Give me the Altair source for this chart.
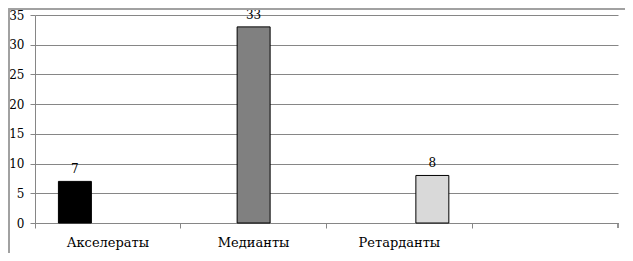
import altair as alt
import pandas as pd

categories = ["Акселераты", "Медианты", "Ретарданты", " "]
series = ["s1", "s2", "s3"]
values = [7, 33, 8]
colors = ["#000000", "#808080", "#d9d9d9"]
yticks = [0, 5, 10, 15, 20, 25, 30, 35]

df = pd.DataFrame({
    "cat": categories[:3],
    "ser": series,
    "val": values,
})

FONT = "DejaVu Serif"

x = alt.X("cat:N", scale=alt.Scale(domain=categories, paddingInner=0, paddingOuter=0),
          axis=alt.Axis(title=None, labelAngle=0, bandPosition=0, grid=False, tickSize=5,
                        labelPadding=8, labelFontSize=13, labelFont=FONT))
xo = alt.XOffset("ser:N", scale=alt.Scale(domain=series, paddingInner=0, paddingOuter=0.71))
y = alt.Y("val:Q", scale=alt.Scale(domain=[0, 35]),
          axis=alt.Axis(title=None, values=yticks, tickSize=5,
                        labelPadding=6, labelFontSize=12, labelFont=FONT, labelOverlap=False))

bars = alt.Chart(df).mark_bar(stroke="#000000", strokeWidth=1).encode(
    x=x, xOffset=xo, y=y,
    color=alt.Color("ser:N", scale=alt.Scale(domain=series, range=colors), legend=None),
)

labels = alt.Chart(df).mark_text(baseline="alphabetic", dy=-8, fontSize=12, font=FONT).encode(
    x=x, xOffset=xo, y=y, text="val:Q"
)

endtick = alt.Chart(df).mark_rule(color="#868686").encode(
    x=alt.value(583), y=alt.value(208), y2=alt.value(213)
)

border = alt.Chart(df).mark_rect(fill=None, stroke="#a0a0a0", strokeWidth=1.5).encode(
    x=alt.value(-26), x2=alt.value(596), y=alt.value(-6), y2=alt.value(243)
)

chart = alt.layer(bars, labels, endtick, border).properties(
    width=583, height=208,
    autosize=alt.AutoSizeParams(type="none"),
    padding={"left": 27, "top": 7, "right": 7, "bottom": 30},
).configure(font=FONT).configure_view(stroke=None).configure_axis(
    labelColor="#000000",
    domainColor="#868686", tickColor="#868686", gridColor="#868686",
).configure_text(color="#000000")

chart.save("out.html", embed_options={"renderer": "svg", "actions": False})
